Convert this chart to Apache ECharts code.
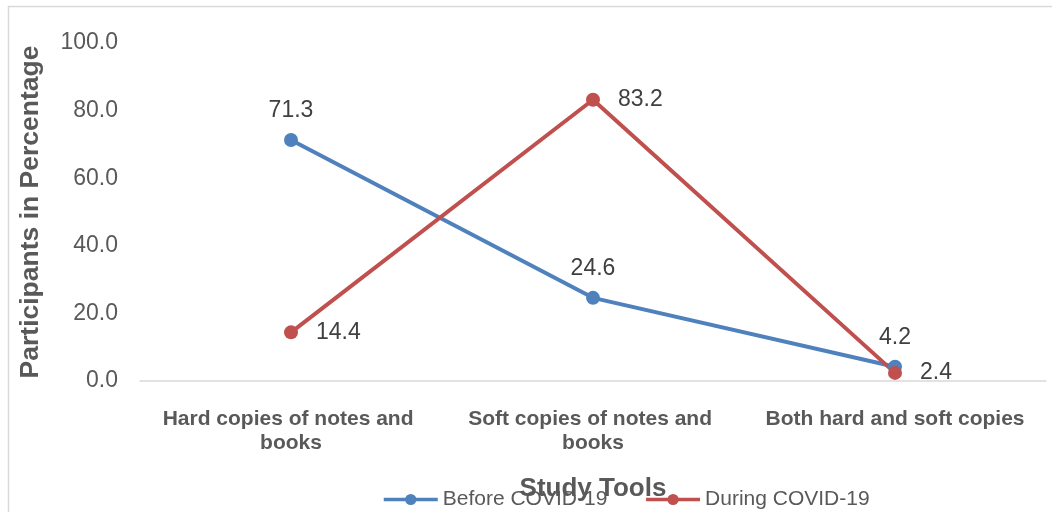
<!DOCTYPE html>
<html>
<head>
<meta charset="utf-8">
<script src="https://cdn.jsdelivr.net/npm/echarts@6/dist/echarts.min.js"></script>
<style>
  html, body { margin: 0; padding: 0; background: #fff; }
  #chart { width: 1052px; height: 512px; }
</style>
</head>
<body>
<div id="chart"></div>
<script>
// data
const categories = ['Hard copies of notes and books', 'Soft copies of notes and books', 'Both hard and soft copies']
const beforeCovid = [71.3, 24.6, 4.2]
const duringCovid = [14.4, 83.2, 2.4]
const yTicks = [0, 20, 40, 60, 80, 100]

const font = 'Liberation Sans, Arial, sans-serif'
const grey = '#595959'

const chart = echarts.init(document.getElementById('chart'))
const option = {
  animation: false,
  textStyle: { fontFamily: font },
  graphic: [{
    type: 'rect',
    shape: { x: 8.5, y: 6.5, width: 1060, height: 520 },
    style: { fill: 'none', stroke: '#d9d9d9', lineWidth: 1.5 },
    z: -1
  }],
  grid: { left: 140, right: 6, top: 43, bottom: 131 },
  legend: {
    top: 484,
    left: 377,
    itemWidth: 54,
    itemHeight: 14,
    itemGap: 37,
    lineStyle: { width: 3.5 },
    textStyle: { fontSize: 21, color: grey, fontFamily: font },
    data: ['Before COVID-19', 'During COVID-19']
  },
  xAxis: {
    type: 'category',
    data: categories,
    name: 'Study Tools',
    nameLocation: 'middle',
    nameGap: 95,
    nameTextStyle: { fontSize: 26, fontWeight: 'bold', color: grey, fontFamily: font },
    axisLine: { lineStyle: { color: '#d9d9d9', width: 1.5 } },
    axisTick: { show: false },
    axisLabel: {
      interval: 0,
      margin: 26,
      width: 280,
      overflow: 'break',
      fontSize: 21,
      lineHeight: 24,
      fontWeight: 'bold',
      color: grey,
      fontFamily: font
    }
  },
  yAxis: {
    type: 'value',
    min: yTicks[0],
    max: yTicks[yTicks.length - 1],
    interval: yTicks[1] - yTicks[0],
    name: 'Participants in Percentage',
    nameLocation: 'middle',
    nameGap: 96,
    nameTextStyle: { fontSize: 26.5, fontWeight: 'bold', color: grey, fontFamily: font },
    splitLine: { show: false },
    axisLine: { show: false },
    axisTick: { show: false },
    axisLabel: {
      margin: 22,
      fontSize: 23,
      color: grey,
      fontFamily: font,
      formatter: v => v.toFixed(1)
    }
  },
  series: [
    {
      name: 'Before COVID-19',
      type: 'line',
      data: beforeCovid,
      symbol: 'circle',
      symbolSize: 14,
      lineStyle: { width: 4, color: '#4F81BD' },
      itemStyle: { color: '#4F81BD' },
      label: {
        show: true,
        position: 'top',
        distance: 11,
        fontSize: 23,
        color: '#404040',
        fontFamily: font,
        formatter: p => p.value.toFixed(1)
      }
    },
    {
      name: 'During COVID-19',
      type: 'line',
      data: duringCovid,
      symbol: 'circle',
      symbolSize: 14,
      lineStyle: { width: 4, color: '#C0504D' },
      itemStyle: { color: '#C0504D' },
      label: {
        show: true,
        position: 'right',
        distance: 18,
        fontSize: 23,
        color: '#404040',
        fontFamily: font,
        formatter: p => p.value.toFixed(1)
      }
    }
  ]
}
chart.setOption(option)
</script>
</body>
</html>
